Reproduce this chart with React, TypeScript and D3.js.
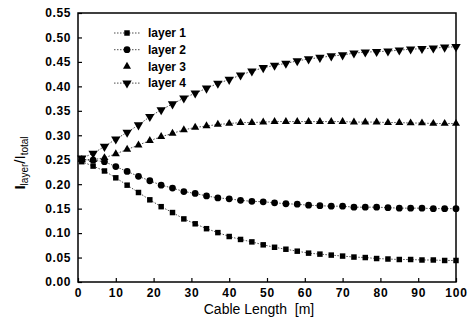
import { useEffect, useRef } from "react";
import * as d3 from "d3";

// cable length positions (m)
const lengths = [1, 4, 7, 10, 13, 16, 19, 22, 25, 28, 31, 34, 37, 40, 43, 46, 49, 52, 55, 58, 61, 64, 67, 70, 73, 76, 79, 82, 85, 88, 91, 94, 97, 100];

const layer1 = [0.246, 0.237, 0.227, 0.213, 0.198, 0.183, 0.168, 0.154, 0.142, 0.129, 0.119, 0.109, 0.101, 0.093, 0.087, 0.082, 0.076, 0.071, 0.067, 0.063, 0.059, 0.057, 0.055, 0.053, 0.051, 0.05, 0.048, 0.047, 0.046, 0.046, 0.045, 0.045, 0.044, 0.044];
const layer2 = [0.25, 0.249, 0.246, 0.236, 0.226, 0.216, 0.207, 0.198, 0.192, 0.185, 0.181, 0.176, 0.172, 0.17, 0.167, 0.165, 0.164, 0.162, 0.16, 0.159, 0.157, 0.156, 0.155, 0.155, 0.153, 0.153, 0.153, 0.152, 0.151, 0.151, 0.151, 0.15, 0.15, 0.15];
const layer3 = [0.25, 0.25, 0.254, 0.262, 0.271, 0.28, 0.289, 0.297, 0.304, 0.311, 0.316, 0.319, 0.322, 0.324, 0.326, 0.326, 0.327, 0.328, 0.328, 0.328, 0.328, 0.328, 0.328, 0.328, 0.327, 0.327, 0.327, 0.326, 0.326, 0.325, 0.325, 0.324, 0.324, 0.324];
const layer4 = [0.253, 0.263, 0.277, 0.292, 0.306, 0.321, 0.338, 0.352, 0.364, 0.376, 0.386, 0.396, 0.406, 0.414, 0.423, 0.431, 0.438, 0.443, 0.447, 0.452, 0.456, 0.459, 0.462, 0.464, 0.468, 0.47, 0.471, 0.472, 0.474, 0.476, 0.477, 0.478, 0.48, 0.481];

const seriesNames = ["layer 1", "layer 2", "layer 3", "layer 4"];
const xTicks = [0, 10, 20, 30, 40, 50, 60, 70, 80, 90, 100];
const yTicks = [0, 0.05, 0.1, 0.15, 0.2, 0.25, 0.3, 0.35, 0.4, 0.45, 0.5, 0.55];

export default function App() {
    const svgRef = useRef<SVGSVGElement | null>(null);

    useEffect(() => {
        if (!svgRef.current) return;
        d3.select(svgRef.current).selectAll("*").remove();

        const width = 471;
        const height = 323;
        const margin = { top: 13, right: 15, bottom: 41, left: 78 };
        const innerWidth = width - margin.left - margin.right;
        const innerHeight = height - margin.top - margin.bottom;

        const svg = d3
            .select(svgRef.current)
            .attr("width", width)
            .attr("height", height)
            .append("g")
            .attr("transform", `translate(${margin.left},${margin.top})`);

        const x = d3.scaleLinear().domain([0, 100]).range([0, innerWidth]);
        const y = d3.scaleLinear().domain([0, 0.55]).range([innerHeight, 0]);

        const font = "'Liberation Sans', Arial, sans-serif";

        // X axis
        const xAxis = svg
            .append("g")
            .attr("transform", `translate(0,${innerHeight})`)
            .call(d3.axisBottom(x).tickValues(xTicks).tickSize(-4).tickPadding(6).tickFormat((d) => `${d}`));
        xAxis.select(".domain").remove();
        xAxis.selectAll("line").attr("stroke", "#000").attr("stroke-width", 1.2);
        xAxis
            .selectAll("text")
            .attr("font-family", font)
            .attr("font-weight", "bold")
            .attr("font-size", "12px")
            .attr("letter-spacing", "0.8px")
            .attr("fill", "#000");

        // Y axis
        const yAxis = svg
            .append("g")
            .call(d3.axisLeft(y).tickValues(yTicks).tickSize(-4).tickPadding(7).tickFormat(d3.format(".2f")));
        yAxis.select(".domain").remove();
        yAxis.selectAll("line").attr("stroke", "#000").attr("stroke-width", 1.2);
        yAxis
            .selectAll("text")
            .attr("font-family", font)
            .attr("font-weight", "bold")
            .attr("font-size", "12px")
            .attr("letter-spacing", "0.6px")
            .attr("fill", "#000");

        // frame
        svg.append("rect")
            .attr("x", 0)
            .attr("y", 0)
            .attr("width", innerWidth)
            .attr("height", innerHeight)
            .attr("fill", "none")
            .attr("stroke", "#000")
            .attr("stroke-width", 1.5);

        const symbols = [
            { type: d3.symbolSquare, size: 30, rotate: 0 },
            { type: d3.symbolCircle, size: 36, rotate: 0 },
            { type: d3.symbolTriangle, size: 28, rotate: 0 },
            { type: d3.symbolTriangle, size: 38, rotate: 180 },
        ];

        const allSeries = [layer1, layer2, layer3, layer4];
        const line = d3
            .line<number>()
            .x((_, i) => x(lengths[i]))
            .y((d) => y(d));

        allSeries.forEach((values, si) => {
            svg.append("path")
                .datum(values)
                .attr("d", line)
                .attr("fill", "none")
                .attr("stroke", "#000")
                .attr("stroke-width", 0.7)
                .attr("stroke-dasharray", "1.5,1.5");

            const sym = d3.symbol().type(symbols[si].type).size(symbols[si].size);
            svg.selectAll(`.m${si}`)
                .data(values)
                .enter()
                .append("path")
                .attr("class", `m${si}`)
                .attr("d", sym)
                .attr("transform", (d, i) => `translate(${x(lengths[i])},${y(d)}) rotate(${symbols[si].rotate})`)
                .attr("fill", "#000");
        });

        // legend
        const legend = svg.append("g").attr("transform", `translate(${114 - margin.left},${33 - margin.top})`);
        seriesNames.forEach((name, i) => {
            const g = legend.append("g").attr("transform", `translate(0,${i * 16.7})`);
            if (i !== 2) {
                g.append("line")
                    .attr("x1", 0)
                    .attr("x2", 26)
                    .attr("stroke", "#000")
                    .attr("stroke-width", 0.7)
                    .attr("stroke-dasharray", "1.5,1.5");
            }
            const sym = d3.symbol().type(symbols[i].type).size(symbols[i].size);
            g.append("path")
                .attr("d", sym)
                .attr("transform", `translate(13,0) rotate(${symbols[i].rotate})`)
                .attr("fill", "#000");
            g.append("text")
                .attr("x", 34)
                .attr("dy", "0.35em")
                .attr("font-family", font)
                .attr("font-weight", "bold")
                .attr("font-size", "12px")
                .attr("fill", "#000")
                .text(name);
        });

        // x label
        svg.append("text")
            .attr("x", innerWidth / 2 - 8)
            .attr("y", innerHeight + 32)
            .attr("text-anchor", "middle")
            .attr("font-family", font)
            .attr("font-size", "14px")
            .attr("fill", "#000")
            .style("white-space", "pre")
            .text("Cable Length  [m]");

        // y label
        const yl = svg
            .append("text")
            .attr("transform", `translate(${25 - margin.left},${163 - margin.top}) rotate(-90)`)
            .attr("text-anchor", "middle")
            .attr("font-family", font)
            .attr("fill", "#000");
        yl.append("tspan").attr("font-size", "15px").attr("font-weight", "bold").text("I");
        yl.append("tspan").attr("font-size", "10px").attr("dy", "3").text("layer");
        yl.append("tspan").attr("font-size", "15px").attr("dy", "-3").text("/I");
        yl.append("tspan").attr("font-size", "10px").attr("dy", "3").text("total");
    }, []);

    return (
        <svg
            ref={svgRef}
            style={{ position: "absolute", left: 0, top: 0, background: "#fff" }}
            width={471}
            height={323}
        />
    );
}
